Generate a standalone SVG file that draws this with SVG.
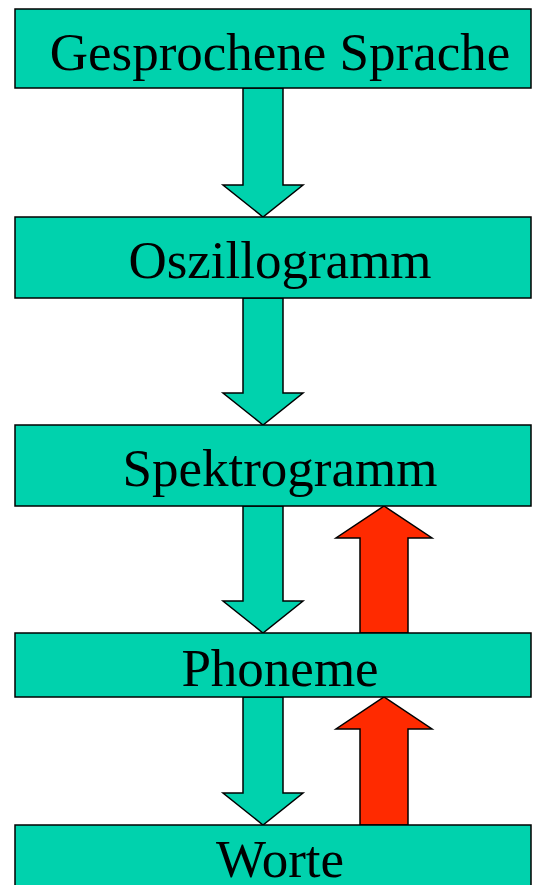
<svg xmlns="http://www.w3.org/2000/svg" width="536" height="885" viewBox="0 0 536 885">
<style>
.box{fill:#00D2AD;stroke:#000;stroke-width:1.5}
.down{fill:#00D2AD;stroke:#000;stroke-width:1.5;stroke-linejoin:miter}
.up{fill:#FF2A00;stroke:#000;stroke-width:1.5;stroke-linejoin:miter}
.lbl{font-family:"Liberation Serif","Times New Roman",serif;font-size:53px;fill:#000;text-anchor:middle}
</style>
<rect width="536" height="885" fill="#fff"/>
<g id="connectors">
<polygon class="down" points="243,88 283,88 283,185 303,185 263,217 223,185 243,185"/>
<polygon class="down" points="243,298 283,298 283,393 303,393 263,425 223,393 243,393"/>
<polygon class="down" points="243,506 283,506 283,601 303,601 263,633 223,601 243,601"/>
<polygon class="down" points="243,697 283,697 283,793 303,793 263,825 223,793 243,793"/>
<polygon class="up" points="360,633 408,633 408,538 432,538 384,506 336,538 360,538"/>
<polygon class="up" points="360,825 408,825 408,729 432,729 384,697 336,729 360,729"/>
</g>
<g id="n1"><rect class="box" x="15" y="9" width="516" height="79"/><text class="lbl" x="280" y="70">Gesprochene Sprache</text></g>
<g id="n2"><rect class="box" x="15" y="217" width="516" height="81"/><text class="lbl" x="280" y="278">Oszillogramm</text></g>
<g id="n3"><rect class="box" x="15" y="425" width="516" height="81"/><text class="lbl" x="280" y="486">Spektrogramm</text></g>
<g id="n4"><rect class="box" x="15" y="633" width="516" height="64"/><text class="lbl" x="280" y="686">Phoneme</text></g>
<g id="n5"><rect class="box" x="15" y="825" width="516" height="80"/><text class="lbl" x="280" y="877">Worte</text></g>
</svg>
